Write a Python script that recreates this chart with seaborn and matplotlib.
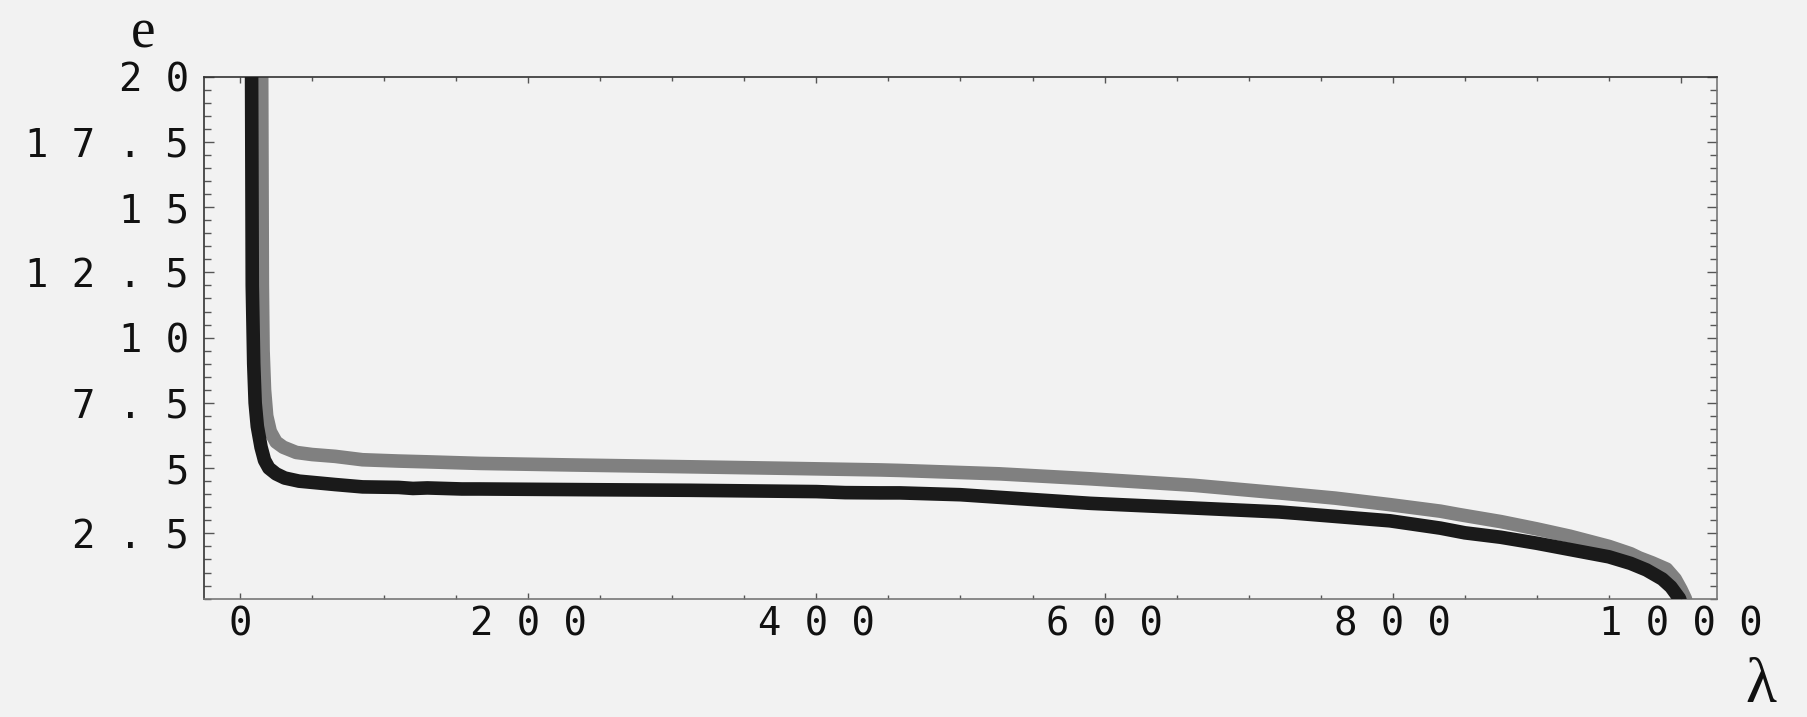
import matplotlib
matplotlib.use("Agg")
import matplotlib.pyplot as plt
import pandas as pd
import seaborn as sns
from matplotlib.ticker import FixedLocator, MultipleLocator, FuncFormatter

# Grey spectrum: e against eigenvalue index lambda
grey_lambda = [14.5, 15, 15.5, 16, 17, 18.5, 21, 25, 30, 39, 50, 66, 85, 110, 130,
               166, 230, 312, 380, 444, 458, 527, 590, 662, 721, 760, 798, 833,
               846, 875, 900, 923, 950, 965, 971, 980, 990, 996, 1000, 1003, 1005]
grey_e = [40, 20.5, 12, 9.5, 8.0, 7.0, 6.4, 6.0, 5.8, 5.6, 5.52, 5.45, 5.32, 5.27, 5.24,
          5.18, 5.12, 5.05, 4.99, 4.93, 4.91, 4.78, 4.59, 4.34, 4.05, 3.85, 3.6, 3.35,
          3.22, 2.95, 2.67, 2.39, 2.0, 1.72, 1.56, 1.37, 1.13, 0.75, 0.35, 0.0, -0.4]

# Black spectrum
black_lambda = [7.5, 8, 8.5, 9.5, 10.5, 12, 14.6, 17, 20, 25, 31, 41, 66, 85, 110, 120,
                130, 154, 166, 250, 312, 400, 420, 444, 458, 500, 527, 590, 662, 721,
                735, 798, 833, 850, 875, 900, 923, 950, 965, 976, 987, 993, 999, 1001]
black_e = [40, 20.5, 12, 9.0, 7.5, 6.6, 5.8, 5.3, 5.0, 4.78, 4.62, 4.5, 4.37, 4.28, 4.26, 4.22,
           4.24, 4.2, 4.2, 4.17, 4.15, 4.1, 4.06, 4.05, 4.05, 3.98, 3.88, 3.65, 3.47, 3.32,
           3.26, 2.98, 2.7, 2.52, 2.35, 2.12, 1.88, 1.6, 1.35, 1.1, 0.75, 0.45, 0.0, -0.4]

x_ticks = [0, 200, 400, 600, 800, 1000]
y_ticks = [2.5, 5, 7.5, 10, 12.5, 15, 17.5, 20]
x_label = "λ"
y_label = "e"

sns.set_theme(style="ticks")
plt.rcParams["font.family"] = ["DejaVu Sans Mono", "DejaVu Sans"]

bg = "#f2f2f2"
W, H = 1808, 717
fig = plt.figure(figsize=(W / 100, H / 100), dpi=100, facecolor=bg)
left, right, top, bottom = 204, 1717, 76.6, 598.6
ax = fig.add_axes([left / W, 1 - bottom / H, (right - left) / W, (bottom - top) / H])
ax.set_facecolor(bg)

grey = pd.DataFrame({"lam": grey_lambda, "e": grey_e})
black = pd.DataFrame({"lam": black_lambda, "e": black_e})
line_kw = dict(sort=False, estimator=None, lw=9.8, solid_capstyle="butt",
               solid_joinstyle="round", ax=ax)
sns.lineplot(data=grey, x="lam", y="e", color="#808080", zorder=2, **line_kw)
sns.lineplot(data=black, x="lam", y="e", color="#1a1a1a", zorder=3, **line_kw)

ax.set_xlim(-25, 1025)
ax.set_ylim(0, 20)
ax.set_xlabel("")
ax.set_ylabel("")


def spaced(v, pos=None):
    return " ".join(f"{v:g}")


ax.xaxis.set_major_locator(FixedLocator(x_ticks))
ax.xaxis.set_minor_locator(MultipleLocator(50))
ax.yaxis.set_major_locator(FixedLocator(y_ticks))
ax.yaxis.set_minor_locator(MultipleLocator(0.5))
ax.xaxis.set_major_formatter(FuncFormatter(spaced))
ax.yaxis.set_major_formatter(FuncFormatter(spaced))

ax.tick_params(which="both", direction="in", top=True, right=True,
               color="#555555", width=1.0, labelcolor="#111111", labelsize=28)
ax.tick_params(axis="x", which="major", length=4.5, pad=5)
ax.tick_params(axis="x", which="minor", length=3.0)
ax.tick_params(axis="y", which="major", length=7.5, pad=11)
ax.tick_params(axis="y", which="minor", length=5.0)
ax.tick_params(labeltop=False, labelright=False)

for side, col in [("left", "#333333"), ("top", "#333333"),
                  ("bottom", "#777777"), ("right", "#777777")]:
    ax.spines[side].set_color(col)
    ax.spines[side].set_linewidth(1.2)

fig.text(143 / W, 1 - 48 / H, y_label, family="Liberation Serif", fontsize=40,
         ha="center", va="baseline", color="#111111")
fig.text(1761 / W, 1 / H, x_label, family="Liberation Serif", fontsize=46,
         ha="center", va="bottom", color="#111111")

fig.savefig("out.png", dpi=100, facecolor=bg)
